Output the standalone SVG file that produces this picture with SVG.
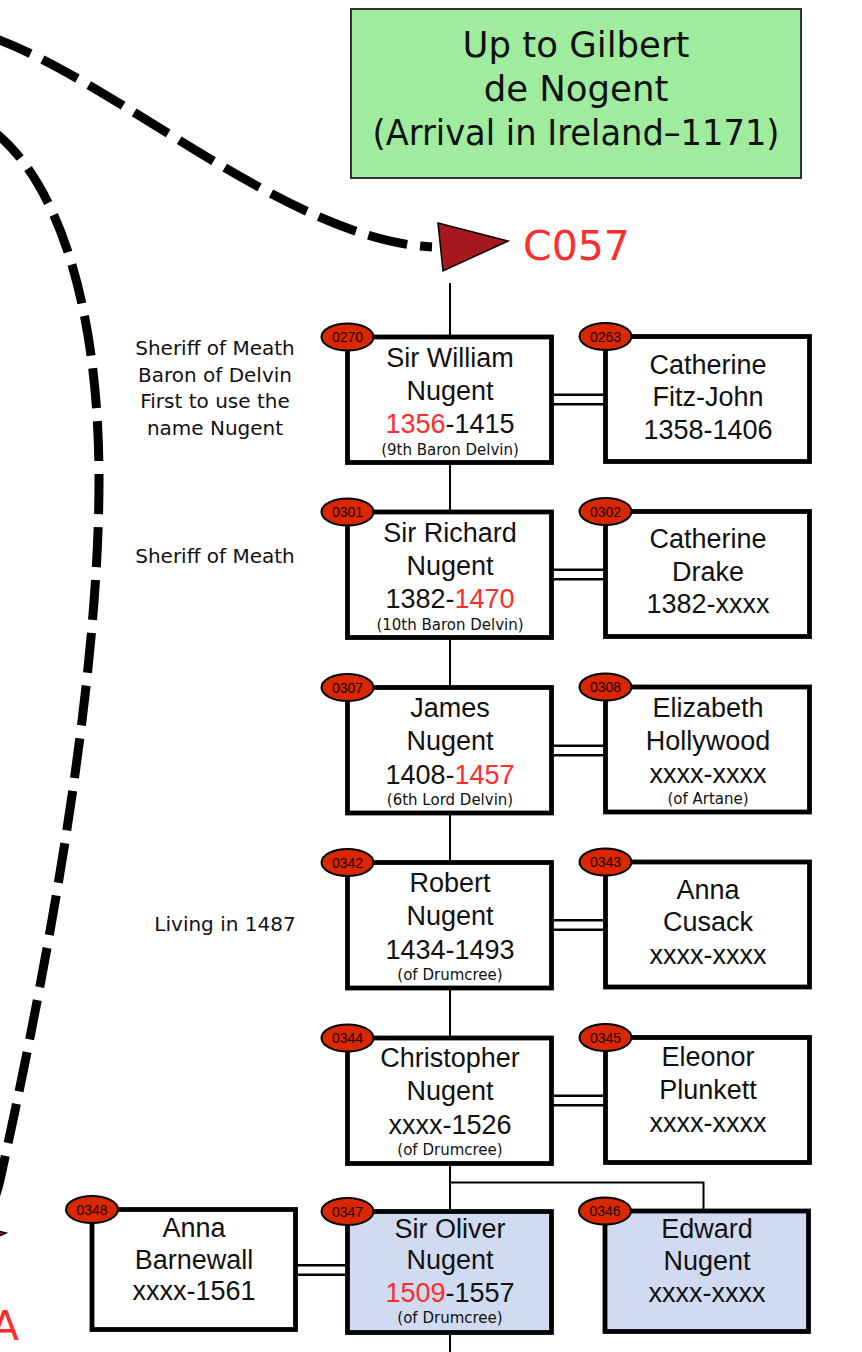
<svg xmlns="http://www.w3.org/2000/svg" width="862" height="1352" viewBox="0 0 862 1352">
<style>
.box{stroke:#000;stroke-width:4.8;fill:#fff}
.blue{fill:#d0daf0}
.badge{fill:#d92800;stroke:#000;stroke-width:2}
.bt{font-family:"Liberation Sans",Arial,sans-serif;font-size:14px;fill:#1a0000;text-anchor:middle}
.nm{font-family:"Liberation Sans",Arial,sans-serif;font-size:27px;fill:#111;text-anchor:middle}
.sm{font-family:"DejaVu Sans",sans-serif;font-size:15px;fill:#111;text-anchor:middle}
.note{font-family:"DejaVu Sans",sans-serif;font-size:20px;fill:#111;text-anchor:middle}
.red{fill:#ff2d2d}
.ln{stroke:#000;stroke-width:2;fill:none}
.m1{stroke:#000;stroke-width:12;fill:none}
.m2{stroke:#fff;stroke-width:7;fill:none}
.dash{stroke:#000;stroke-width:9;fill:none;stroke-dasharray:40 13}
.tri{fill:#a5181d;stroke:#000;stroke-width:1.5}
</style>

<g id="connectors">
  <path class="dash" d="M -6,38 C 120,84 290,240 432,247"/>
  <path class="dash" d="M -8,130 C 55,178 99,300 99,480 C 99,700 40,1000 0,1180 C -9,1220 -30,1240 -60,1240"/>
  <polygon class="tri" points="438,223 508,241 443,271"/>
  <polygon class="tri" points="-64,1215 6,1233 -59,1263"/>
  <line class="ln" x1="450" y1="283" x2="450" y2="1352"/>
  <polyline class="ln" points="450,1182.5 703.5,1182.5 703.5,1212"/>
  <line class="m1" x1="552" y1="399.5" x2="606" y2="399.5"/>
  <line class="m2" x1="550" y1="399.5" x2="608" y2="399.5"/>
  <line class="m1" x1="552" y1="574.5" x2="606" y2="574.5"/>
  <line class="m2" x1="550" y1="574.5" x2="608" y2="574.5"/>
  <line class="m1" x1="552" y1="750.5" x2="606" y2="750.5"/>
  <line class="m2" x1="550" y1="750.5" x2="608" y2="750.5"/>
  <line class="m1" x1="552" y1="925" x2="606" y2="925"/>
  <line class="m2" x1="550" y1="925" x2="608" y2="925"/>
  <line class="m1" x1="552" y1="1100.5" x2="606" y2="1100.5"/>
  <line class="m2" x1="550" y1="1100.5" x2="608" y2="1100.5"/>
  <line class="m1" x1="295" y1="1270" x2="348" y2="1270"/>
  <line class="m2" x1="293" y1="1270" x2="350" y2="1270"/>
</g>

<g id="title">
  <rect x="351" y="9" width="450" height="169" fill="#9fec9f" stroke="#333" stroke-width="2"/>
  <text x="576" y="57" font-family="DejaVu Sans, sans-serif" font-size="35.5" text-anchor="middle" fill="#111">Up to Gilbert</text>
  <text x="576" y="101" font-family="DejaVu Sans, sans-serif" font-size="35.5" text-anchor="middle" fill="#111">de Nogent</text>
  <text x="576" y="145" font-family="DejaVu Sans, sans-serif" font-size="35.5" text-anchor="middle" fill="#111" textLength="407" lengthAdjust="spacingAndGlyphs">(Arrival in Ireland–1171)</text>
</g>

<g id="labels">
  <text x="523" y="260" font-family="DejaVu Sans, sans-serif" font-size="41" fill="#ff2d2d">C057</text>
  <text x="-9" y="1340" font-family="DejaVu Sans, sans-serif" font-size="41" fill="#ff2d2d">A</text>
</g>

<g id="notes">
  <text class="note" x="215" y="355">Sheriff of Meath</text>
  <text class="note" x="215" y="381.7">Baron of Delvin</text>
  <text class="note" x="215" y="408.3">First to use the</text>
  <text class="note" x="215" y="435">name Nugent</text>
  <text class="note" x="215" y="563.3">Sheriff of Meath</text>
  <text class="note" x="225" y="931" font-size="17">Living in 1487</text>
</g>

<g id="n0270">
  <rect class="box" x="347.5" y="337" width="204" height="125.5"/>
  <text class="nm" x="450" y="366.5">Sir William</text>
  <text class="nm" x="450" y="399.5">Nugent</text>
  <text class="nm" x="450" y="433"><tspan class="red">1356</tspan>-1415</text>
  <text class="sm" x="450" y="454.5">(9th Baron Delvin)</text>
  <ellipse class="badge" cx="347.5" cy="337" rx="26" ry="13.5"/>
  <text class="bt" x="347.5" y="342">0270</text>
</g>
<g id="n0263">
  <rect class="box" x="605.5" y="336.5" width="204" height="125"/>
  <text class="nm" x="708" y="373.5">Catherine</text>
  <text class="nm" x="708" y="405.5">Fitz-John</text>
  <text class="nm" x="708" y="438.5">1358-1406</text>
  <ellipse class="badge" cx="605.5" cy="336.5" rx="26" ry="13.5"/>
  <text class="bt" x="605.5" y="341.5">0263</text>
</g>

<g id="n0301">
  <rect class="box" x="347.5" y="512" width="204" height="125.5"/>
  <text class="nm" x="450" y="541.5">Sir Richard</text>
  <text class="nm" x="450" y="574.5">Nugent</text>
  <text class="nm" x="450" y="608">1382-<tspan class="red">1470</tspan></text>
  <text class="sm" x="450" y="629.5">(10th Baron Delvin)</text>
  <ellipse class="badge" cx="347.5" cy="512" rx="26" ry="13.5"/>
  <text class="bt" x="347.5" y="517">0301</text>
</g>
<g id="n0302">
  <rect class="box" x="605.5" y="511.5" width="204" height="125"/>
  <text class="nm" x="708" y="548">Catherine</text>
  <text class="nm" x="708" y="580.5">Drake</text>
  <text class="nm" x="708" y="613">1382-xxxx</text>
  <ellipse class="badge" cx="605.5" cy="511.5" rx="26" ry="13.5"/>
  <text class="bt" x="605.5" y="516.5">0302</text>
</g>

<g id="n0307">
  <rect class="box" x="347.5" y="687.5" width="204" height="125.5"/>
  <text class="nm" x="450" y="717">James</text>
  <text class="nm" x="450" y="750">Nugent</text>
  <text class="nm" x="450" y="783.5">1408-<tspan class="red">1457</tspan></text>
  <text class="sm" x="450" y="805">(6th Lord Delvin)</text>
  <ellipse class="badge" cx="347.5" cy="687.5" rx="26" ry="13.5"/>
  <text class="bt" x="347.5" y="692.5">0307</text>
</g>
<g id="n0308">
  <rect class="box" x="605.5" y="687" width="204" height="125"/>
  <text class="nm" x="708" y="716.5">Elizabeth</text>
  <text class="nm" x="708" y="749.5">Hollywood</text>
  <text class="nm" x="708" y="782.5">xxxx-xxxx</text>
  <text class="sm" x="708" y="804">(of Artane)</text>
  <ellipse class="badge" cx="605.5" cy="687" rx="26" ry="13.5"/>
  <text class="bt" x="605.5" y="692">0308</text>
</g>

<g id="n0342">
  <rect class="box" x="347.5" y="862.5" width="204" height="125.5"/>
  <text class="nm" x="450" y="892">Robert</text>
  <text class="nm" x="450" y="925">Nugent</text>
  <text class="nm" x="450" y="958.5">1434-1493</text>
  <text class="sm" x="450" y="980">(of Drumcree)</text>
  <ellipse class="badge" cx="347.5" cy="862.5" rx="26" ry="13.5"/>
  <text class="bt" x="347.5" y="867.5">0342</text>
</g>
<g id="n0343">
  <rect class="box" x="605.5" y="862" width="204" height="125"/>
  <text class="nm" x="708" y="898.5">Anna</text>
  <text class="nm" x="708" y="931">Cusack</text>
  <text class="nm" x="708" y="963.5">xxxx-xxxx</text>
  <ellipse class="badge" cx="605.5" cy="862" rx="26" ry="13.5"/>
  <text class="bt" x="605.5" y="867">0343</text>
</g>

<g id="n0344">
  <rect class="box" x="347.5" y="1038" width="204" height="125.5"/>
  <text class="nm" x="450" y="1067">Christopher</text>
  <text class="nm" x="450" y="1100">Nugent</text>
  <text class="nm" x="450" y="1134">xxxx-1526</text>
  <text class="sm" x="450" y="1155">(of Drumcree)</text>
  <ellipse class="badge" cx="347.5" cy="1038" rx="26" ry="13.5"/>
  <text class="bt" x="347.5" y="1043">0344</text>
</g>
<g id="n0345">
  <rect class="box" x="605.5" y="1037.5" width="204" height="125"/>
  <text class="nm" x="708" y="1066">Eleonor</text>
  <text class="nm" x="708" y="1098.5">Plunkett</text>
  <text class="nm" x="708" y="1131.5">xxxx-xxxx</text>
  <ellipse class="badge" cx="605.5" cy="1037.5" rx="26" ry="13.5"/>
  <text class="bt" x="605.5" y="1042.5">0345</text>
</g>

<g id="n0348">
  <rect class="box" x="92" y="1209.5" width="203.5" height="120"/>
  <text class="nm" x="194" y="1237">Anna</text>
  <text class="nm" x="194" y="1268.5">Barnewall</text>
  <text class="nm" x="194" y="1300">xxxx-1561</text>
  <ellipse class="badge" cx="92" cy="1209.5" rx="26" ry="13.5"/>
  <text class="bt" x="92" y="1214.5">0348</text>
</g>
<g id="n0347">
  <rect class="box blue" x="347.5" y="1211.5" width="204" height="121"/>
  <text class="nm" x="450" y="1237.5">Sir Oliver</text>
  <text class="nm" x="450" y="1268.5">Nugent</text>
  <text class="nm" x="450" y="1301.5"><tspan class="red">1509</tspan>-1557</text>
  <text class="sm" x="450" y="1323">(of Drumcree)</text>
  <ellipse class="badge" cx="347.5" cy="1211.5" rx="26" ry="13.5"/>
  <text class="bt" x="347.5" y="1216.5">0347</text>
</g>
<g id="n0346">
  <rect class="box blue" x="605" y="1211" width="203.5" height="120.5"/>
  <text class="nm" x="707" y="1238">Edward</text>
  <text class="nm" x="707" y="1270">Nugent</text>
  <text class="nm" x="707" y="1301.5">xxxx-xxxx</text>
  <ellipse class="badge" cx="605" cy="1211" rx="26" ry="13.5"/>
  <text class="bt" x="605" y="1216">0346</text>
</g>
</svg>
